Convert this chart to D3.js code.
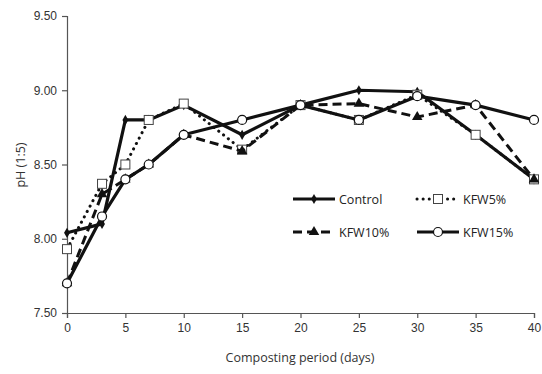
<!DOCTYPE html>
<html>
<head>
<meta charset="utf-8">
<script src="https://cdn.jsdelivr.net/npm/d3@7"></script>
<style>
  body { margin: 0; background: #fff; }
  svg { font-family: "Open Sans", "Liberation Sans", sans-serif; }
</style>
</head>
<body>
<svg width="542" height="374"></svg>
<script>
// ---- Dados
const days = [0, 3, 5, 7, 10, 15, 20, 25, 30, 35, 40];
const control = [8.04, 8.10, 8.80, 8.80, 8.90, 8.70, 8.90, 9.00, 8.99, 8.70, 8.40];
const kfw5 = [7.93, 8.37, 8.50, 8.80, 8.91, 8.60, 8.90, 8.80, 8.97, 8.70, 8.40];
const kfw10 = [7.70, 8.30, 8.40, 8.50, 8.70, 8.59, 8.90, 8.91, 8.82, 8.90, 8.40];
const kfw15 = [7.70, 8.15, 8.40, 8.50, 8.70, 8.80, 8.90, 8.80, 8.96, 8.90, 8.80];
const xTicks = [0, 5, 10, 15, 20, 25, 30, 35, 40];
const yTicks = [7.5, 8.0, 8.5, 9.0, 9.5];

// ordem de desenho: Control, KFW5%, KFW10%, KFW15% (cada uma com linha + marcadores)
const series = [
  { name: 'Control', values: control, dash: null, width: 3.2, cap: 'butt', marker: 'diamond' },
  { name: 'KFW5%', values: kfw5, dash: '0.1,6', width: 3, cap: 'round', marker: 'square' },
  { name: 'KFW10%', values: kfw10, dash: '9,5', width: 3, cap: 'butt', marker: 'triangle' },
  { name: 'KFW15%', values: kfw15, dash: null, width: 3.2, cap: 'butt', marker: 'circle' }
];

const svg = d3.select('svg');
const margin = { left: 67, right: 8, top: 16, bottom: 61 };
const W = 542, H = 374;

const x = d3.scaleLinear().domain([0, 40]).range([margin.left, W - margin.right]);
const y = d3.scaleLinear().domain([7.5, 9.5]).range([H - margin.bottom, margin.top]);

// ---- Eixos
const axisColor = '#555';
const gx = svg.append('g')
  .attr('transform', `translate(0, ${y(7.5)})`)
  .call(d3.axisBottom(x).tickValues(xTicks).tickSize(5).tickPadding(5).tickFormat(d3.format('d')));
gx.select('.domain').attr('stroke', axisColor).attr('stroke-width', 1.2);
gx.selectAll('.tick line').attr('stroke', axisColor).attr('stroke-width', 1.2);
gx.selectAll('.tick text').attr('fill', '#333').style('font-size', '12px');

const gy = svg.append('g')
  .attr('transform', `translate(${x(0)}, 0)`)
  .call(d3.axisLeft(y).tickValues(yTicks).tickSize(5).tickPadding(5).tickFormat(d3.format('.2f')));
gy.select('.domain').attr('stroke', axisColor).attr('stroke-width', 1.2);
gy.selectAll('.tick line').attr('stroke', axisColor).attr('stroke-width', 1.2);
gy.selectAll('.tick text').attr('fill', '#333').style('font-size', '12px');

svg.append('text')
  .attr('x', 300).attr('y', 362)
  .attr('text-anchor', 'middle')
  .attr('fill', '#333')
  .style('font-size', '12.5px')
  .text('Composting period (days)');

svg.append('text')
  .attr('transform', 'translate(25, 165) rotate(-90)')
  .attr('text-anchor', 'middle')
  .attr('fill', '#333')
  .style('font-size', '12.5px')
  .text('pH (1:5)');

// ---- Marcadores
function drawMarker(g, type, cx, cy) {
  if (type === 'circle') {
    g.append('circle').attr('cx', cx).attr('cy', cy).attr('r', 4.5)
      .attr('fill', '#fff').attr('stroke', '#111').attr('stroke-width', 1.2);
  } else if (type === 'square') {
    g.append('rect').attr('x', cx - 4.5).attr('y', cy - 4.5).attr('width', 9).attr('height', 9)
      .attr('fill', '#fff').attr('stroke', '#444').attr('stroke-width', 1);
  } else if (type === 'triangle') {
    g.append('path').attr('d', d3.symbol(d3.symbolTriangle, 48)())
      .attr('transform', `translate(${cx}, ${cy})`).attr('fill', '#111');
  } else {
    g.append('path').attr('d', d3.symbol(d3.symbolDiamond, 30)())
      .attr('transform', `translate(${cx}, ${cy})`).attr('fill', '#111');
  }
}

// ---- Linhas + marcadores
const line = d3.line().x(d => x(d[0])).y(d => y(d[1]));
series.forEach(s => {
  const g = svg.append('g');
  const pts = days.map((d, i) => [d, s.values[i]]);
  g.append('path')
    .datum(pts)
    .attr('d', line)
    .attr('fill', 'none')
    .attr('stroke', '#111')
    .attr('stroke-width', s.width)
    .attr('stroke-linecap', s.cap)
    .attr('stroke-linejoin', 'round')
    .attr('stroke-dasharray', s.dash);
  pts.forEach(p => drawMarker(g, s.marker, x(p[0]), y(p[1])));
});

// ---- Legenda
const legend = [
  { s: series[0], lx: 293, ly: 199 },
  { s: series[1], lx: 417, ly: 199 },
  { s: series[2], lx: 293, ly: 232 },
  { s: series[3], lx: 417, ly: 232 }
];
legend.forEach(({ s, lx, ly }) => {
  const g = svg.append('g');
  g.append('line')
    .attr('x1', lx).attr('x2', lx + 42).attr('y1', ly).attr('y2', ly)
    .attr('stroke', '#111').attr('stroke-width', s.width)
    .attr('stroke-linecap', s.cap).attr('stroke-dasharray', s.dash);
  drawMarker(g, s.marker, lx + 21, ly);
  g.append('text')
    .attr('x', lx + 46).attr('y', ly + 4.5)
    .attr('fill', '#222')
    .style('font-size', '12.5px')
    .text(s.name);
});
</script>
</body>
</html>
